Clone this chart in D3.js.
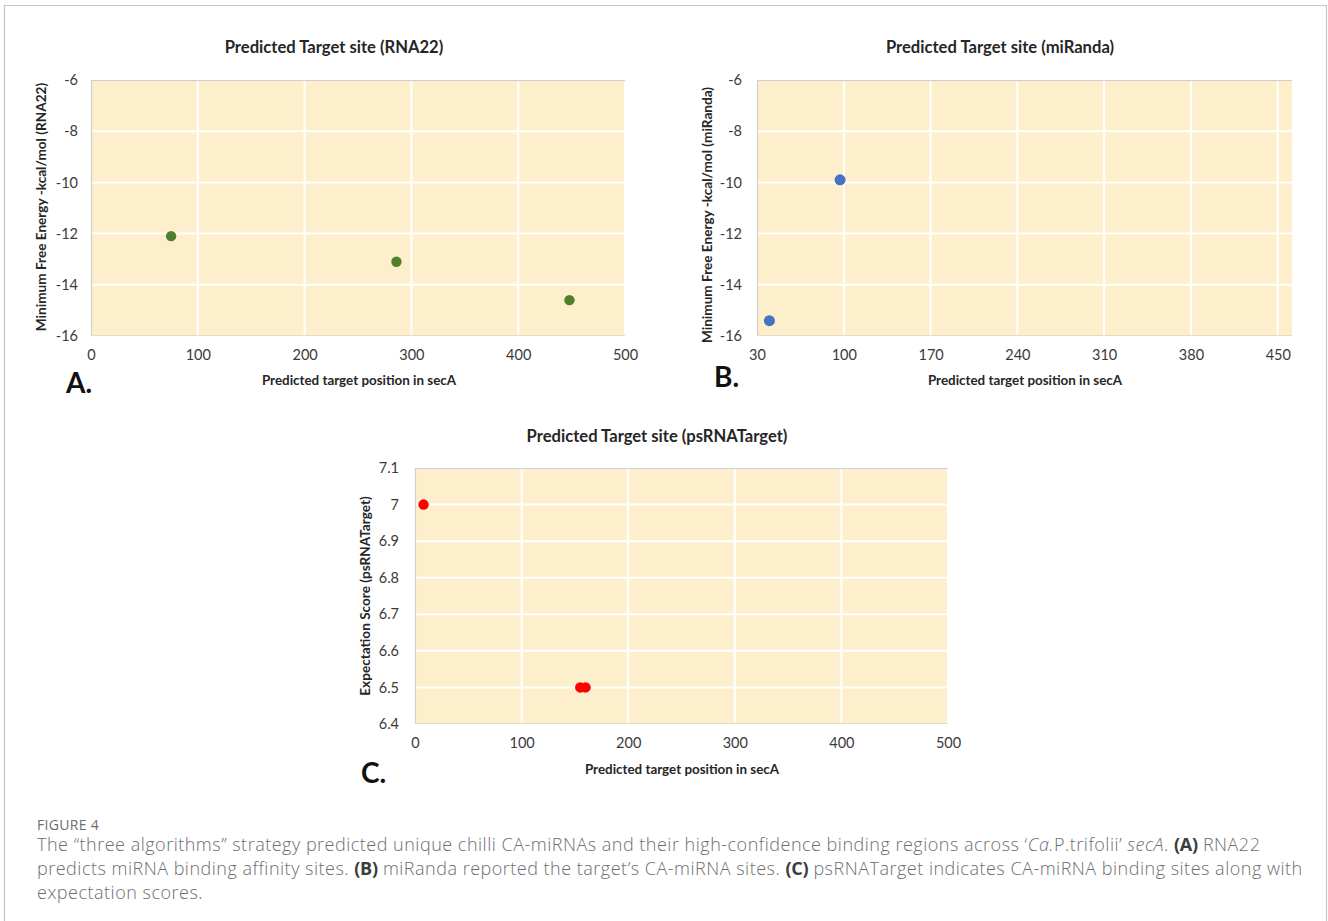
<!DOCTYPE html>
<html>
<head>
<meta charset="utf-8">
<script src="https://cdn.jsdelivr.net/npm/d3@7"></script>
<style>
  html, body { margin: 0; padding: 0; background: #fff; }
  svg { display: block; }
</style>
</head>
<body>
<svg id="fig" width="1328" height="921"></svg>
<script>
// ---- data: predicted target sites in secA ----
const rna22Position = [75, 286, 448];
const rna22Energy = [-12.1, -13.1, -14.6];

const mirandaPosition = [40, 97];
const mirandaEnergy = [-15.4, -9.9];

const psPosition = [8, 155, 160];
const psScore = [7.0, 6.5, 6.5];

// ---- tick values ----
const energyTicks = [-16, -14, -12, -10, -8, -6];
const positionTicks = [0, 100, 200, 300, 400, 500];
const mirandaPositionTicks = [30, 100, 170, 240, 310, 380, 450];
const scoreTicks = [6.4, 6.5, 6.6, 6.7, 6.8, 6.9, 7.0, 7.1];

const svg = d3.select("#fig");
const chartFont = "Lato, 'Open Sans', sans-serif";

// outer frame around the figure
svg.append("path")
  .attr("d", "M4.5,925 V5.5 H1326.5 V925")
  .attr("fill", "none").attr("stroke", "#c4c4c4").attr("stroke-width", 1.2);

function drawPanel(p) {
  const x = d3.scaleLinear().domain(p.xDomain).range(p.xRange);
  const y = d3.scaleLinear().domain(p.yDomain).range(p.yRange);
  const g = svg.append("g");

  // plot area background
  g.append("rect")
    .attr("x", p.xRange[0]).attr("y", p.yRange[1])
    .attr("width", p.xRange[1] - p.xRange[0])
    .attr("height", p.yRange[0] - p.yRange[1])
    .attr("fill", "#fdefcb");

  // white gridlines
  g.append("g").selectAll("line").data(p.yTicks).join("line")
    .attr("x1", p.xRange[0]).attr("x2", p.xRange[1])
    .attr("y1", d => y(d)).attr("y2", d => y(d))
    .attr("stroke", "#ffffff").attr("stroke-width", 2);
  g.append("g").selectAll("line").data(p.xTicks).join("line")
    .attr("x1", d => x(d)).attr("x2", d => x(d))
    .attr("y1", p.yRange[0]).attr("y2", p.yRange[1])
    .attr("stroke", "#ffffff").attr("stroke-width", 2);

  // axis lines
  g.append("line")
    .attr("x1", p.xRange[0]).attr("x2", p.xRange[1])
    .attr("y1", p.yRange[1] + 0.5).attr("y2", p.yRange[1] + 0.5)
    .attr("stroke", "#cfcfcf").attr("stroke-width", 1.2);
  g.append("line")
    .attr("x1", p.xRange[0] + 0.5).attr("x2", p.xRange[0] + 0.5)
    .attr("y1", p.yRange[0]).attr("y2", p.yRange[1])
    .attr("stroke", "#cfcfcf").attr("stroke-width", 1.2);
  g.append("line")
    .attr("x1", p.xRange[0]).attr("x2", p.xRange[1])
    .attr("y1", p.yRange[0] - 0.5).attr("y2", p.yRange[0] - 0.5)
    .attr("stroke", "#e2dccb").attr("stroke-width", 1);

  // tick labels via d3 axes (lines hidden); plain hyphen for negatives
  const xAxis = d3.axisBottom(x).tickValues(p.xTicks).tickSize(0).tickPadding(p.xPad)
    .tickFormat(d => String(d));
  const yAxis = d3.axisLeft(y).tickValues(p.yTicks).tickSize(0).tickPadding(p.yPad)
    .tickFormat(p.yFormat);
  const xa = g.append("g").attr("transform", `translate(0,${p.yRange[0]})`).call(xAxis);
  const ya = g.append("g").attr("transform", `translate(${p.xRange[0]},0)`).call(yAxis);
  [xa, ya].forEach(a => {
    a.select(".domain").remove();
    a.selectAll("text").attr("font-family", chartFont).attr("font-size", 14.5)
      .attr("fill", "#3a3a3a");
  });

  // points
  g.append("g").selectAll("circle").data(p.xs).join("circle")
    .attr("cx", (d, i) => x(d)).attr("cy", (d, i) => y(p.ys[i]))
    .attr("r", p.r).attr("fill", p.color);

  // titles
  g.append("text").attr("x", p.titleX).attr("y", p.titleY)
    .attr("text-anchor", "middle").attr("font-family", chartFont)
    .attr("font-weight", 700).attr("font-size", 16.6).attr("fill", "#262626")
    .text(p.title);
  g.append("text").attr("x", p.xTitleX).attr("y", p.xTitleY)
    .attr("text-anchor", "middle").attr("font-family", chartFont)
    .attr("font-weight", 700).attr("font-size", 13.4).attr("fill", "#262626")
    .text(p.xTitle);
  g.append("text")
    .attr("transform", `translate(${p.yTitleX},${p.yTitleY}) rotate(-90)`)
    .attr("text-anchor", "middle").attr("font-family", chartFont)
    .attr("font-weight", 700).attr("font-size", 13.6).attr("fill", "#262626")
    .text(p.yTitle);

  // panel letter
  g.append("text").attr("x", p.letterX).attr("y", p.letterY)
    .attr("font-family", chartFont).attr("font-weight", 700)
    .attr("font-size", 28).attr("fill", "#111")
    .text(p.letter);
}

drawPanel({
  xDomain: [0, 500], xRange: [91, 625],
  yDomain: [-16, -6], yRange: [336, 80],
  xTicks: positionTicks, yTicks: energyTicks,
  yFormat: d => String(d), xPad: 14, yPad: 13,
  xs: rna22Position, ys: rna22Energy, color: "#4f7f2f", r: 5.2,
  title: "Predicted Target site (RNA22)", titleX: 334, titleY: 53,
  xTitle: "Predicted target position in secA", xTitleX: 359, xTitleY: 385,
  yTitle: "Minimum Free Energy -kcal/mol (RNA22)", yTitleX: 46, yTitleY: 207,
  letter: "A.", letterX: 66, letterY: 393
});

drawPanel({
  xDomain: [30, 461.5], xRange: [757, 1292],
  yDomain: [-16, -6], yRange: [336, 80],
  xTicks: mirandaPositionTicks, yTicks: energyTicks,
  yFormat: d => String(d), xPad: 14, yPad: 15,
  xs: mirandaPosition, ys: mirandaEnergy, color: "#4472c4", r: 5.5,
  title: "Predicted Target site (miRanda)", titleX: 1000, titleY: 53,
  xTitle: "Predicted target position in secA", xTitleX: 1025, xTitleY: 385,
  yTitle: "Minimum Free Energy -kcal/mol (miRanda)", yTitleX: 712, yTitleY: 215,
  letter: "B.", letterX: 714, letterY: 387
});

drawPanel({
  xDomain: [0, 500], xRange: [415, 948],
  yDomain: [6.4, 7.1], yRange: [724, 468],
  xTicks: positionTicks, yTicks: scoreTicks,
  yFormat: d => (Math.round(d * 10) / 10).toString(), xPad: 14, yPad: 16,
  xs: psPosition, ys: psScore, color: "#ff0000", r: 5.2,
  title: "Predicted Target site (psRNATarget)", titleX: 657, titleY: 442,
  xTitle: "Predicted target position in secA", xTitleX: 682, xTitleY: 774,
  yTitle: "Expectation Score (psRNATarget)", yTitleX: 370, yTitleY: 596,
  letter: "C.", letterX: 361, letterY: 783
});

// ---- figure caption ----
const capFont = "'Open Sans', 'Noto Sans', sans-serif";
const capColor = "#6d6e71";
svg.append("text").attr("x", 37).attr("y", 830)
  .attr("font-family", capFont).attr("font-size", 14).attr("fill", capColor)
  .attr("letter-spacing", 0.3)
  .text("FIGURE 4");

const captionLines = [
  [["The “three algorithms” strategy predicted unique chilli CA-miRNAs and their high-confidence binding regions across ‘", ""],
   ["Ca.", "i"], ["P.trifolii’ ", ""], ["secA", "i"], [". ", ""], ["(A)", "b"], [" RNA22", ""]],
  [["predicts miRNA binding affinity sites. ", ""], ["(B)", "b"],
   [" miRanda reported the target’s CA-miRNA sites. ", ""], ["(C)", "b"],
   [" psRNATarget indicates CA-miRNA binding sites along with", ""]],
  [["expectation scores.", ""]]
];
captionLines.forEach((parts, i) => {
  const t = svg.append("text").attr("x", 37).attr("y", 851 + i * 24)
    .attr("font-family", capFont).attr("font-size", 18).attr("fill", capColor)
    .attr("font-weight", 300).attr("letter-spacing", 0.5);
  parts.forEach(([s, style]) => {
    const ts = t.append("tspan").text(s);
    if (style === "i") ts.attr("font-style", "italic");
    if (style === "b") ts.attr("font-weight", 700).attr("fill", "#3b3c3e")
      .attr("letter-spacing", -0.3);
  });
});
</script>
</body>
</html>
